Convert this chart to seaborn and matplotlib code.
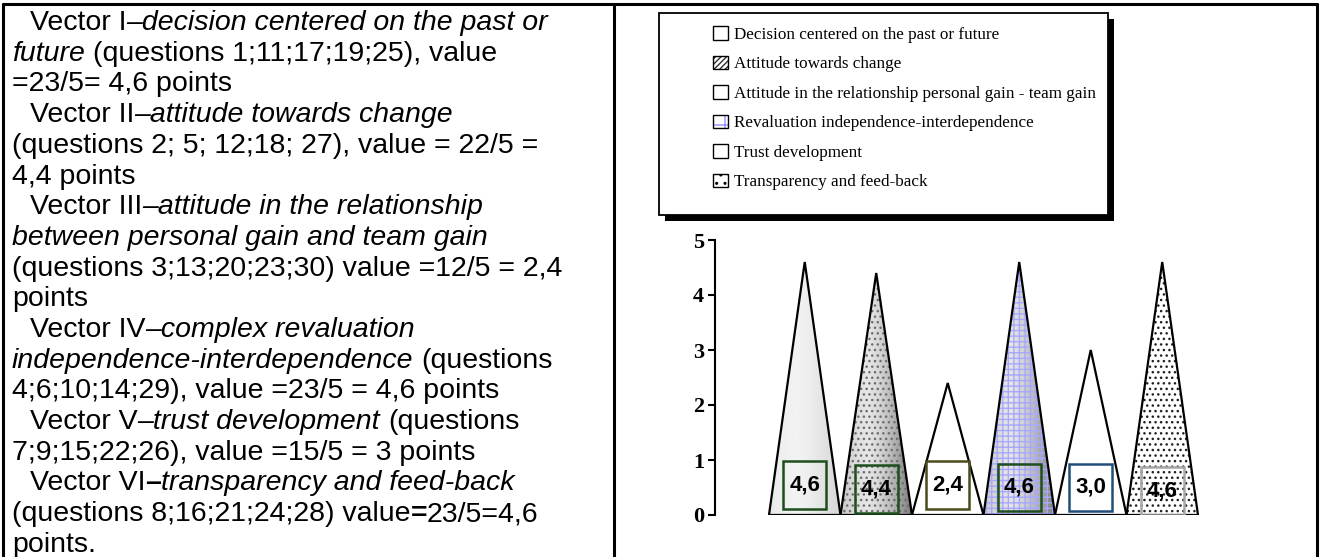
import numpy as np
import matplotlib
matplotlib.use("Agg")
import matplotlib.pyplot as plt
from matplotlib.patches import Polygon, Rectangle, Patch
from matplotlib.lines import Line2D
from matplotlib.legend_handler import HandlerTuple
import seaborn as sns

# data
vectors = ["I", "II", "III", "IV", "V", "VI"]
values = [4.6, 4.4, 2.4, 4.6, 3.0, 4.6]
value_labels = ["4,6", "4,4", "2,4", "4,6", "3,0", "4,6"]
legend_labels = [
    "Decision centered on the past or future",
    "Attitude towards change",
    "Attitude in the relationship personal gain - team gain",
    "Revaluation independence-interdependence",
    "Trust development",
    "Transparency and feed-back",
]
yticks = [0, 1, 2, 3, 4, 5]

# left column text, (segment, style) per line; indent flag first
n, i, b = "normal", "italic", "bold"
text_lines = [
    (True, [("Vector I", n), ("\u2013decision centered on the past or", i)]),
    (False, [("future", i), (" (questions 1;11;17;19;25), value", n)]),
    (False, [("=23/5= 4,6 points", n)]),
    (True, [("Vector II", n), ("\u2013attitude towards change", i)]),
    (False, [("(questions 2; 5; 12;18; 27), value = 22/5 =", n)]),
    (False, [("4,4 points", n)]),
    (True, [("Vector III", n), ("\u2013attitude in the relationship", i)]),
    (False, [("between personal gain and team gain", i)]),
    (False, [("(questions 3;13;20;23;30) value =12/5 = 2,4", n)]),
    (False, [("points", n)]),
    (True, [("Vector IV", n), ("\u2013complex revaluation", i)]),
    (False, [("independence-interdependence", i), (" (questions", n)]),
    (False, [("4;6;10;14;29), value =23/5 = 4,6 points", n)]),
    (True, [("Vector V", n), ("\u2013trust development", i), (" (questions", n)]),
    (False, [("7;9;15;22;26), value =15/5 = 3 points", n)]),
    (True, [("Vector VI", n), ("\u2013", b), ("transparency and feed-back", i)]),
    (False, [("(questions 8;16;21;24;28) value", n), ("=", b), ("23/5=4,6", n)]),
    (False, [("points.", n)]),
]

# styles
shade_base = [0.05, 0.10, 0.0, 0.10, 0.0, 0.0]
shade_depth = [0.12, 0.42, 0.0, 0.42, 0.0, 0.0]
cone_hatch = [None, "...", None, "+++", None, "..."]
hatch_color = [None, "#6e6e6e", None, "#a8a8ff", None, "#202020"]
box_colors = ["#1e4d1e", "#1e4d1e", "#4a4a1a", "#1e4d1e", "#1f4e79", "#a6a6a6"]
label_y = [0.545, 0.47, 0.545, 0.5, 0.5, 0.43]

sns.set_style("white")
plt.rcParams["font.family"] = ["Liberation Serif", "DejaVu Serif"]
plt.rcParams["text.color"] = "black"
plt.rcParams["hatch.linewidth"] = 1.0

W, H = 1320, 557
fig = plt.figure(figsize=(W / 100, H / 100), dpi=100)


def fx(x):
    return x / W


def fy(y):
    return 1 - y / H


# outer frame and divider
for xs, ys in [([3, 3], [4, H]), ([3, 1317], [4, 4]), ([1317, 1317], [4, H]), ([614, 614], [4, H])]:
    fig.add_artist(Line2D([fx(v) for v in xs], [fy(v) for v in ys], color="black", lw=2.2,
                          transform=fig.transFigure))

# left text
renderer = fig.canvas.get_renderer()
fs_left = 20.5


def txt(x, y, s, st):
    return fig.text(fx(x), fy(y), s, fontsize=fs_left, family="Liberation Sans",
                    style="italic" if st == i else "normal",
                    weight="bold" if st == b else "normal", va="center", ha="left")


probe = txt(0, 0, "a a", n)
w1 = probe.get_window_extent(renderer).width
probe.remove()
probe = txt(0, 0, "aa", n)
space_w = w1 - probe.get_window_extent(renderer).width
probe.remove()

for k, (indent, segs) in enumerate(text_lines):
    x = 30 if indent else 12
    y = 23 + k * 30.7
    for s, st in segs:
        lead = len(s) - len(s.lstrip(" "))
        x += lead * space_w
        t = txt(x, y, s.strip(), st)
        x += t.get_window_extent(renderer).width

# legend box with shadow
lx0, ly0, lx1, ly1 = 659, 13, 1108, 215
fig.add_artist(Rectangle((fx(lx0 + 6), fy(ly1 + 6)), (lx1 - lx0) / W, (ly1 - ly0) / H,
                         facecolor="black", edgecolor="none", transform=fig.transFigure))
fig.add_artist(Rectangle((fx(lx0), fy(ly1)), (lx1 - lx0) / W, (ly1 - ly0) / H,
                         facecolor="white", edgecolor="black", lw=1.3, transform=fig.transFigure))

# cone chart
unit = 71.5
xlim = (-1.255, 5.8)
ax = fig.add_axes([fx(715), fy(515), (xlim[1] - xlim[0]) * unit / W, 275 / H])
sns.barplot(x=vectors, y=values, ax=ax, width=1.0, color="white", saturation=1)

tt = np.linspace(0, 1, 256)
for k, p in enumerate(list(ax.patches)):
    x0, w, h = p.get_x(), p.get_width(), p.get_height()
    p.remove()
    xc = x0 + w / 2
    corners = [(x0, 0), (xc, h), (x0 + w, 0)]
    tri = Polygon(corners, closed=True, facecolor="white", edgecolor="none", zorder=1)
    ax.add_patch(tri)
    if shade_depth[k] > 0:
        f = np.clip(np.abs(tt - 0.38) / 0.62, 0, 1) ** 1.4
        f = np.where(tt < 0.38, f * 0.6, f)
        grad = (1 - shade_base[k] - shade_depth[k] * f)[None, :]
        im = ax.imshow(grad, extent=(x0, x0 + w, 0, h), aspect="auto", cmap="gray",
                       vmin=0, vmax=1, zorder=2, interpolation="bilinear")
        im.set_clip_path(tri)
    if cone_hatch[k]:
        ax.add_patch(Polygon(corners, closed=True, facecolor="none", edgecolor=hatch_color[k],
                             lw=0, hatch=cone_hatch[k], zorder=3))
    ax.add_patch(Polygon(corners, closed=True, facecolor="none", edgecolor="black",
                         lw=1.6, joinstyle="miter", zorder=4))
    ax.plot([x0, x0 + w], [0, 0], color="black", lw=2.2, zorder=5, solid_capstyle="butt")
    bw, bh = 0.6, 0.87
    ax.add_patch(Rectangle((xc - bw / 2, label_y[k] - bh / 2), bw, bh, facecolor="none",
                           edgecolor=box_colors[k], lw=1.8, zorder=6))
    ax.text(xc, label_y[k], value_labels[k], ha="center", va="center", fontsize=16,
            family="Liberation Sans", weight="bold", color="black", zorder=7)

ax.set_xlim(*xlim)
ax.set_ylim(0, 5)
ax.set_xticks([])
ax.set_yticks(yticks)
ax.set_yticklabels([str(v) for v in yticks], fontsize=16, weight="bold", family="Liberation Serif")
ax.tick_params(axis="y", direction="out", length=5, width=1.5, left=True, pad=3, colors="black")
ax.set_xlabel("")
ax.set_ylabel("")
for side in ["top", "right", "bottom"]:
    ax.spines[side].set_visible(False)
ax.spines["left"].set_linewidth(1.5)
ax.spines["left"].set_color("black")
ax.patch.set_alpha(0)

# legend
handles = []
leg_hatch = [None, "//////", None, "+", None, ".."]
leg_hcol = ["black", "#303030", "black", "#9090ff", "black", "black"]
for k in range(6):
    if leg_hatch[k]:
        handles.append((Patch(facecolor="white", edgecolor=leg_hcol[k], hatch=leg_hatch[k], lw=0),
                        Patch(facecolor="none", edgecolor="black", lw=1.0)))
    else:
        handles.append(Patch(facecolor="white", edgecolor="black", lw=1.0))
fig.legend(handles, legend_labels, loc="upper left", bbox_to_anchor=(fx(713), fy(26)),
           frameon=False, prop={"family": "Liberation Serif", "size": 12.3},
           handlelength=0.85, handleheight=0.85, handletextpad=0.35, labelspacing=0.75,
           borderpad=0, borderaxespad=0, handler_map={tuple: HandlerTuple(ndivide=1, pad=0)})

fig.savefig("out.png", dpi=100, facecolor="white")
